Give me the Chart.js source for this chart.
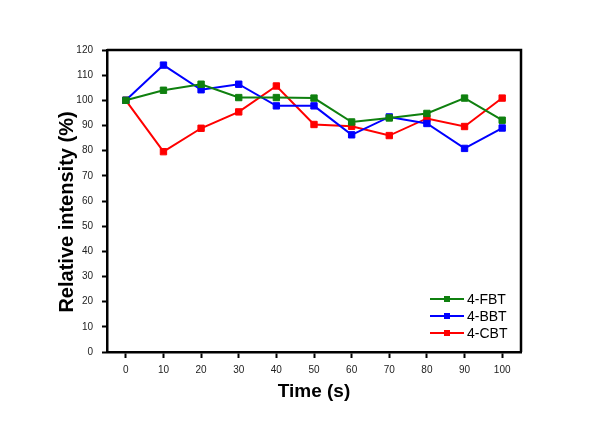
<!DOCTYPE html>
<html>
<head>
<meta charset="utf-8">
<script src="https://cdn.jsdelivr.net/npm/chart.js@4/dist/chart.umd.min.js"></script>
<style>
  body { margin: 0; background: #fff; }
  canvas { display: block; }
</style>
</head>
<body>
<canvas id="intensityChart" width="605" height="424"></canvas>
<script>
// data
const timeLabels = ['0', '10', '20', '30', '40', '50', '60', '70', '80', '90', '100']
const fbt = [100, 104, 106.4, 101.1, 101.1, 100.9, 91.4, 93, 94.8, 100.9, 92.1]
const bbt = [100, 114, 104.2, 106.4, 97.8, 97.8, 86.3, 93.4, 90.8, 80.9, 89]
const cbt = [100, 79.6, 88.9, 95.4, 105.7, 90.4, 89.7, 86, 92.8, 89.6, 100.9]
const seriesNames = ['4-FBT', '4-BBT', '4-CBT']
const seriesColors = ['#0f800f', '#0000ff', '#ff0000']

// frame on top / right edges of the plot
const framePlugin = {
    id: 'frame',
    afterDraw(chart) {
        const {ctx, chartArea: a} = chart
        ctx.save()
        ctx.strokeStyle = '#000'
        ctx.lineWidth = 2.5
        ctx.beginPath()
        ctx.moveTo(a.left, a.top)
        ctx.lineTo(a.right, a.top)
        ctx.lineTo(a.right, a.bottom)
        ctx.stroke()
        ctx.restore()
    }
}

// y title (slightly below centre like the original)
const yTitlePlugin = {
    id: 'yTitle',
    afterDraw(chart) {
        const ctx = chart.ctx
        ctx.save()
        ctx.translate(67, 212)
        ctx.rotate(-Math.PI / 2)
        ctx.font = 'bold 20px Arial, "Liberation Sans", sans-serif'
        ctx.fillStyle = '#000'
        ctx.textAlign = 'center'
        ctx.textBaseline = 'middle'
        ctx.fillText('Relative intensity (%)', 0, 0)
        ctx.restore()
    }
}

// legend inside the plot, bottom right
const legendPlugin = {
    id: 'innerLegend',
    afterDraw(chart) {
        const ctx = chart.ctx
        ctx.save()
        chart.data.datasets.forEach((ds, i) => {
            const y = 299 + i * 17
            ctx.strokeStyle = ds.borderColor
            ctx.lineWidth = 2
            ctx.beginPath()
            ctx.moveTo(430, y)
            ctx.lineTo(464, y)
            ctx.stroke()
            ctx.fillStyle = ds.borderColor
            ctx.fillRect(444, y - 3, 6, 6)
            ctx.fillStyle = '#000'
            ctx.font = '14px Arial, "Liberation Sans", sans-serif'
            ctx.textBaseline = 'middle'
            ctx.fillText(ds.label, 467, y + 1)
        })
        ctx.restore()
    }
}

const makeSet = (i, values) => ({
    label: seriesNames[i],
    data: values,
    borderColor: seriesColors[i],
    backgroundColor: seriesColors[i],
    borderWidth: 2,
    pointStyle: 'rect',
    pointRadius: 4.5,
    pointBorderWidth: 1,
    tension: 0
})

const config = {
    type: 'line',
    data: {
        labels: timeLabels,
        datasets: [makeSet(0, fbt), makeSet(1, bbt), makeSet(2, cbt)]
    },
    options: {
        responsive: false,
        animation: false,
        layout: { padding: { top: 50, right: 84, left: 0, bottom: 0 } },
        plugins: {
            legend: { display: false },
            tooltip: { enabled: false }
        },
        scales: {
            x: {
                type: 'category',
                offset: true,
                afterFit: s => { s.height = 72 },
                border: { display: true, color: '#000', width: 2.5 },
                grid: { offset: false, drawOnChartArea: false, drawTicks: true, tickLength: 6, tickColor: '#000', tickWidth: 2 },
                ticks: { color: '#222', padding: 6, maxRotation: 0, font: { family: 'Arial, "Liberation Sans", sans-serif', size: 10 } },
                title: {
                    display: true,
                    text: 'Time (s)',
                    color: '#000',
                    padding: { top: 0, bottom: 21 },
                    font: { family: 'Arial, "Liberation Sans", sans-serif', size: 19, weight: 'bold' }
                }
            },
            y: {
                min: 0,
                max: 120,
                afterFit: s => { s.width = 107 },
                border: { display: true, color: '#000', width: 2.5 },
                grid: { drawOnChartArea: false, drawTicks: true, tickLength: 5, tickColor: '#000', tickWidth: 2 },
                ticks: { stepSize: 10, color: '#222', padding: 9, font: { family: 'Arial, "Liberation Sans", sans-serif', size: 10 } }
            }
        }
    },
    plugins: [framePlugin, yTitlePlugin, legendPlugin]
}

const myChart = new Chart(document.getElementById('intensityChart'), config)
</script>
</body>
</html>
